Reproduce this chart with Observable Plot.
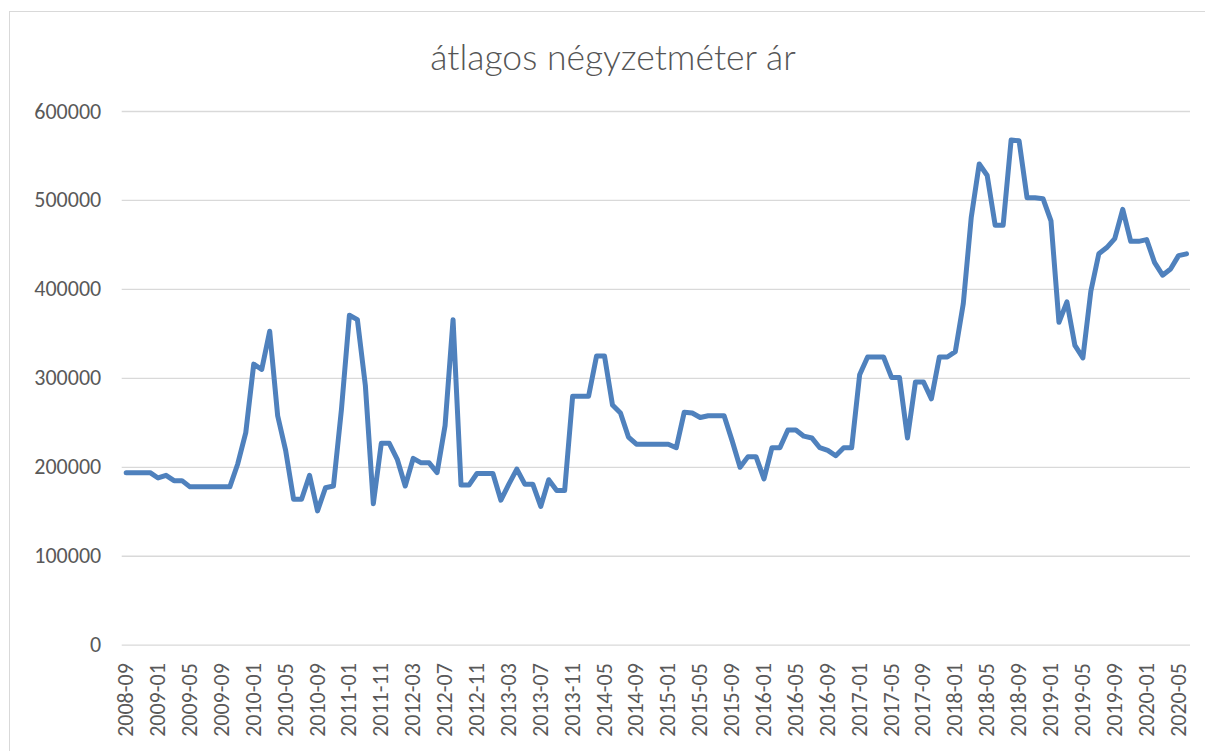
<!DOCTYPE html>
<html>
<head>
<meta charset="utf-8">
<script src="https://cdn.jsdelivr.net/npm/d3@7"></script>
<script src="https://cdn.jsdelivr.net/npm/@observablehq/plot@0.6"></script>
<style>
  html, body { margin: 0; padding: 0; background: #fff; }
  #chart { position: relative; width: 1205px; height: 751px; overflow: hidden; background: #fff;
           font-family: Carlito, Calibri, Roboto, "Liberation Sans", sans-serif; }
  #frame { position: absolute; left: 9px; top: 11px; width: 1300px; height: 1000px;
           border: 1px solid #d9d9d9; pointer-events: none; }
  #title { box-sizing: border-box; height: 90px; width: 1205px; padding-left: 21px; padding-top: 35px;
           text-align: center; font-family: "Lato", Carlito, sans-serif; font-size: 35.5px; font-weight: 300;
           line-height: 44px; color: #555555; }
  #plot svg { display: block; }
</style>
</head>
<body>
<div id="chart">
  <div id="frame"></div>
  <div id="title">átlagos négyzetméter ár</div>
  <div id="plot"></div>
</div>
<script>
// categories (months with gaps, as in the source sheet)
const months = [
  "2008-09","2008-10","2008-11","2008-12",
  "2009-01","2009-02","2009-03","2009-04","2009-05","2009-06","2009-07","2009-08","2009-09","2009-10","2009-11","2009-12",
  "2010-01","2010-02","2010-03","2010-04","2010-05","2010-06","2010-07","2010-08","2010-09","2010-10","2010-11","2010-12",
  "2011-01","2011-02","2011-05","2011-09","2011-11","2011-12",
  "2012-01","2012-02","2012-03","2012-04","2012-05","2012-06","2012-07","2012-08","2012-09","2012-10","2012-11","2012-12",
  "2013-01","2013-02","2013-03","2013-04","2013-05","2013-06","2013-07","2013-08","2013-09","2013-10","2013-11","2013-12",
  "2014-01","2014-03","2014-05","2014-06","2014-07","2014-08","2014-09","2014-10","2014-11","2014-12",
  "2015-01","2015-02","2015-03","2015-04","2015-05","2015-06","2015-07","2015-08","2015-09","2015-10","2015-11","2015-12",
  "2016-01","2016-02","2016-03","2016-04","2016-05","2016-06","2016-07","2016-08","2016-09","2016-10","2016-11","2016-12",
  "2017-01","2017-02","2017-03","2017-04","2017-05","2017-06","2017-07","2017-08","2017-09","2017-10","2017-11","2017-12",
  "2018-01","2018-02","2018-03","2018-04","2018-05","2018-06","2018-07","2018-08","2018-09","2018-10","2018-11","2018-12",
  "2019-01","2019-02","2019-03","2019-04","2019-05","2019-06","2019-07","2019-08","2019-09","2019-10","2019-11","2019-12",
  "2020-01","2020-02","2020-03","2020-04","2020-05","2020-06"
];

// average price per square metre
const prices = [
  194000,194000,194000,194000,
  188000,191000,185000,185000,178000,178000,178000,178000,178000,178000,204000,239000,
  316000,310000,353000,258000,219000,164000,164000,191000,151000,177000,179000,265000,
  371000,366000,292000,159000,227000,227000,
  209000,179000,210000,205000,205000,194000,247000,366000,180000,180000,193000,193000,
  193000,163000,181000,198000,181000,181000,156000,186000,174000,174000,280000,280000,
  280000,325000,325000,270000,261000,234000,226000,226000,226000,226000,
  226000,222000,262000,261000,256000,258000,258000,258000,230000,200000,212000,212000,
  187000,222000,222000,242000,242000,235000,233000,222000,219000,213000,222000,222000,
  304000,324000,324000,324000,301000,301000,233000,296000,296000,277000,324000,324000,
  330000,384000,481000,541000,528000,472000,472000,568000,567000,503000,503000,502000,
  477000,363000,386000,337000,323000,398000,440000,447000,457000,490000,454000,454000,
  456000,430000,416000,423000,438000,440000
];

// axis tick labels
const xTickLabels = [
  "2008-09","2009-01","2009-05","2009-09","2010-01","2010-05","2010-09","2011-01","2011-11",
  "2012-03","2012-07","2012-11","2013-03","2013-07","2013-11","2014-05","2014-09","2015-01",
  "2015-05","2015-09","2016-01","2016-05","2016-09","2017-01","2017-05","2017-09","2018-01",
  "2018-05","2018-09","2019-01","2019-05","2019-09","2020-01","2020-05"
];
const yTicks = [0, 100000, 200000, 300000, 400000, 500000, 600000];

const data = months.map((m, i) => ({month: m, price: prices[i]}));

const chart = Plot.plot({
  width: 1205,
  height: 661,
  marginTop: 21,
  marginBottom: 106.3,
  marginLeft: 121.7,
  marginRight: 15,
  style: {fontFamily: "Carlito, Calibri, Roboto, 'Liberation Sans', sans-serif", color: "#595959", background: "transparent", overflow: "visible"},
  x: {type: "point", domain: months, padding: 0.5, label: null},
  y: {domain: [0, 600000], label: null},
  marks: [
    Plot.gridY(yTicks, {stroke: "#d9d9d9", strokeOpacity: 1, strokeWidth: 1.3}),
    Plot.axisY(yTicks, {tickSize: 0, tickPadding: 21, tickFormat: d => String(d), fontSize: 22, fill: "#595959", label: null}),
    Plot.axisX(xTickLabels, {tickSize: 0, tickPadding: 18, tickRotate: -90, fontSize: 22, fill: "#595959", label: null}),
    Plot.line(data, {x: "month", y: "price", stroke: "#4f81bd", strokeWidth: 5, strokeLinejoin: "round", strokeLinecap: "round"})
  ]
});
document.getElementById("plot").appendChild(chart);
</script>
</body>
</html>
